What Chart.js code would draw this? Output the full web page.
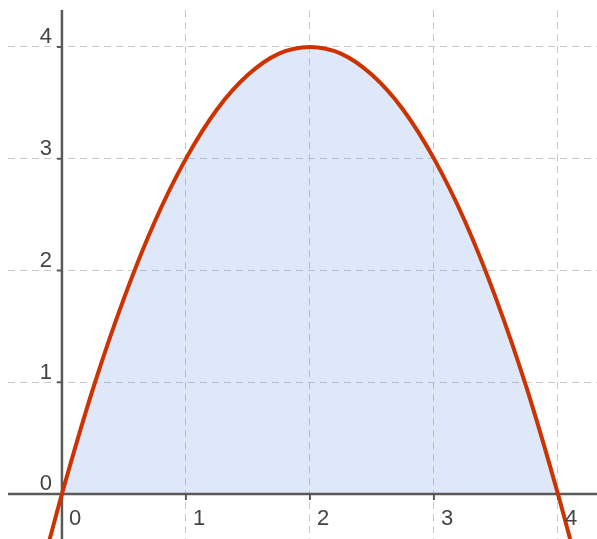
<!DOCTYPE html>
<html>
<head>
<meta charset="utf-8">
<script src="https://cdn.jsdelivr.net/npm/chart.js@4"></script>
<style>
  html, body { margin: 0; padding: 0; background: #fff; }
  #wrap { width: 597px; height: 539px; }
</style>
</head>
<body>
<div id="wrap"><canvas id="parabola"></canvas></div>
<script>
// 곡선 위의 점
const curveX = [-0.15, 0, 0.25, 0.5, 0.75, 1, 1.25, 1.5, 1.75, 2, 2.25, 2.5, 2.75, 3, 3.25, 3.5, 3.75, 4, 4.15];
const curveY = [-0.62, 0, 0.94, 1.75, 2.44, 3, 3.44, 3.75, 3.94, 4, 3.94, 3.75, 3.44, 3, 2.44, 1.75, 0.94, 0, -0.62];

// 눈금
const xTicks = [1, 2, 3, 4];
const yTicks = [1, 2, 3, 4];
const xLabels = ["0", "1", "2", "3", "4"];
const xLabelAt = [0, 1, 2, 3, 4];
const yLabels = ["0", "1", "2", "3", "4"];
const yLabelAt = [0, 1, 2, 3, 4];

const curvePts = curveX.map((x, i) => ({ x: x, y: curveY[i] }));
const fillPts = curvePts.filter((p) => p.x >= 0 && p.x <= 4);

const AXIS = "#5a5a5a";
const TEXT = "#444";

// 축, 눈금 표시
const axesPlugin = {
  id: "axes",
  beforeDatasetDraw(chart, args) {
    if (args.index !== 0) return;
    const { ctx, chartArea, scales } = chart;
    const x0 = scales.x.getPixelForValue(0);
    const y0 = scales.y.getPixelForValue(0);
    ctx.save();
    ctx.strokeStyle = AXIS;
    ctx.lineWidth = 2.5;
    ctx.beginPath();
    ctx.moveTo(chartArea.left, y0);
    ctx.lineTo(chartArea.right, y0);
    ctx.moveTo(x0, chartArea.top);
    ctx.lineTo(x0, chartArea.bottom);
    ctx.stroke();
    ctx.lineWidth = 2;
    ctx.beginPath();
    xTicks.forEach((v) => {
      const px = scales.x.getPixelForValue(v);
      ctx.moveTo(px, y0);
      ctx.lineTo(px, y0 + 6);
    });
    yTicks.forEach((v) => {
      const py = scales.y.getPixelForValue(v);
      ctx.moveTo(x0 - 5, py);
      ctx.lineTo(x0, py);
    });
    ctx.stroke();
    ctx.restore();
  },
  afterDraw(chart) {
    const { ctx, scales } = chart;
    const x0 = scales.x.getPixelForValue(0);
    const y0 = scales.y.getPixelForValue(0);
    ctx.save();
    ctx.fillStyle = TEXT;
    ctx.font = "22px 'Liberation Sans', Arial, sans-serif";
    ctx.textBaseline = "alphabetic";
    ctx.textAlign = "left";
    xLabels.forEach((t, i) => {
      const px = scales.x.getPixelForValue(xLabelAt[i]);
      ctx.fillText(t, px + 7, y0 + 31);
    });
    ctx.textAlign = "right";
    yLabels.forEach((t, i) => {
      const py = scales.y.getPixelForValue(yLabelAt[i]);
      ctx.fillText(t, x0 - 10, py - 3.5);
    });
    ctx.restore();
  },
};

document.addEventListener("DOMContentLoaded", () => {
  const ctx = document.getElementById("parabola").getContext("2d");
  new Chart(ctx, {
    type: "scatter",
    data: {
      datasets: [
        {
          data: curvePts,
          showLine: true,
          borderColor: "#cc3300",
          borderWidth: 4,
          pointRadius: 0,
          cubicInterpolationMode: "monotone",
          fill: false,
        },
        {
          data: fillPts,
          showLine: true,
          borderWidth: 0,
          borderColor: "rgba(0,0,0,0)",
          backgroundColor: "rgba(90, 140, 225, 0.2)",
          pointRadius: 0,
          cubicInterpolationMode: "monotone",
          fill: "origin",
        },
      ],
    },
    options: {
      responsive: true,
      maintainAspectRatio: false,
      animation: false,
      layout: { padding: { left: 8, top: 10, right: 0, bottom: 0 } },
      plugins: {
        legend: { display: false },
        tooltip: { enabled: false },
      },
      scales: {
        x: {
          type: "linear",
          min: -0.435,
          max: 4.315,
          afterBuildTicks: (s) => { s.ticks = xTicks.map((v) => ({ value: v })); },
          ticks: { display: false },
          border: { display: false, dash: [7, 5] },
          grid: { color: "#c8c8c8", lineWidth: 1, drawTicks: false },
        },
        y: {
          type: "linear",
          min: -0.403,
          max: 4.33,
          afterBuildTicks: (s) => { s.ticks = yTicks.map((v) => ({ value: v })); },
          ticks: { display: false },
          border: { display: false, dash: [7, 5] },
          grid: { color: "#c8c8c8", lineWidth: 1, drawTicks: false },
        },
      },
    },
    plugins: [axesPlugin],
  });
});
</script>
</body>
</html>
